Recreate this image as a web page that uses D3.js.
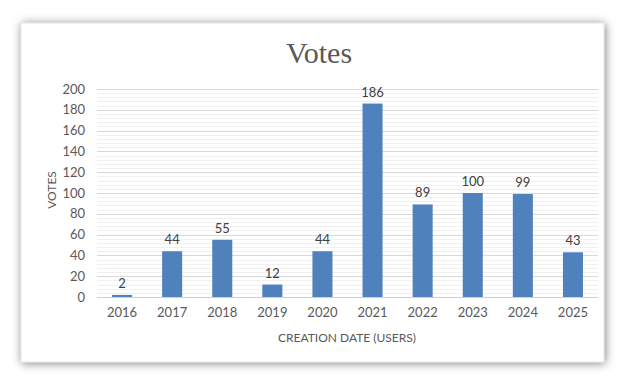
<!DOCTYPE html>
<html>
<head>
<meta charset="utf-8">
<script src="https://cdn.jsdelivr.net/npm/d3@7"></script>
<style>
  body { margin: 0; background: #fff; }
  svg { display: block; }
</style>
</head>
<body>
<svg id="chart" width="640" height="387"></svg>
<script>
const years = ["2016", "2017", "2018", "2019", "2020", "2021", "2022", "2023", "2024", "2025"];
const votes = [2, 44, 55, 12, 44, 186, 89, 100, 99, 43];
const yTicks = [0, 20, 40, 60, 80, 100, 120, 140, 160, 180, 200];

const svg = d3.select("#chart");
const font = "Lato, 'Open Sans', sans-serif";

// card with shadow
const defs = svg.append("defs");
const f = defs.append("filter").attr("id", "shadow")
  .attr("x", "-10%").attr("y", "-10%").attr("width", "120%").attr("height", "120%");
f.append("feDropShadow")
  .attr("dx", 1).attr("dy", 1).attr("stdDeviation", 5)
  .attr("flood-color", "#000").attr("flood-opacity", 0.5);

svg.append("rect")
  .attr("x", 21).attr("y", 23).attr("width", 583).attr("height", 339)
  .attr("fill", "#fff").attr("stroke", "#d9d9d9").attr("stroke-width", 0.75)
  .attr("filter", "url(#shadow)");

const margin = { left: 97, right: 598, top: 89, bottom: 297 };

const x = d3.scaleBand()
  .domain(years)
  .range([margin.left, margin.right])
  .paddingInner(0.6)
  .paddingOuter(0.3);

const y = d3.scaleLinear()
  .domain([0, 200])
  .range([margin.bottom, margin.top]);

// minor gridlines
svg.append("g")
  .selectAll("line")
  .data(d3.range(0, 201, 4))
  .join("line")
  .attr("x1", margin.left).attr("x2", margin.right)
  .attr("y1", d => Math.round(y(d)) + 0.5).attr("y2", d => Math.round(y(d)) + 0.5)
  .attr("stroke", "#f0f0f0").attr("stroke-width", 1);

// major gridlines
svg.append("g")
  .selectAll("line")
  .data(yTicks)
  .join("line")
  .attr("x1", margin.left).attr("x2", margin.right)
  .attr("y1", d => Math.round(y(d)) + 0.5).attr("y2", d => Math.round(y(d)) + 0.5)
  .attr("stroke", d => d === 0 ? "#d0d0d0" : "#d9d9d9").attr("stroke-width", 1);

// y axis labels
const yAxis = svg.append("g")
  .attr("transform", `translate(${margin.left - 6},0)`)
  .call(d3.axisLeft(y).tickValues(yTicks).tickSize(0).tickPadding(6));
yAxis.select(".domain").remove();
yAxis.selectAll("text")
  .attr("font-family", font).attr("font-size", 13).attr("fill", "#595959");

// x axis labels
const xAxis = svg.append("g")
  .attr("transform", `translate(0,${margin.bottom + 8})`)
  .call(d3.axisBottom(x).tickSize(0).tickPadding(3));
xAxis.select(".domain").remove();
xAxis.selectAll("text")
  .attr("font-family", font).attr("font-size", 13).attr("fill", "#595959");

// bars
svg.append("g")
  .selectAll("rect")
  .data(votes)
  .join("rect")
  .attr("x", (d, i) => x(years[i]))
  .attr("width", x.bandwidth())
  .attr("y", d => y(d))
  .attr("height", d => y(0) - y(d))
  .attr("fill", "#4f81bd");

// data labels
svg.append("g")
  .selectAll("text")
  .data(votes)
  .join("text")
  .attr("x", (d, i) => x(years[i]) + x.bandwidth() / 2)
  .attr("y", d => y(d) - 7)
  .attr("text-anchor", "middle")
  .attr("font-family", font).attr("font-size", 13).attr("fill", "#404040")
  .text(d => d);

// title
svg.append("text")
  .attr("x", 319).attr("y", 63)
  .attr("text-anchor", "middle")
  .attr("font-family", "'Liberation Serif', 'DejaVu Serif', serif")
  .attr("font-size", 30).attr("fill", "#595959")
  .text("Votes");

// axis titles
svg.append("text")
  .attr("transform", `translate(56,190) rotate(-90)`)
  .attr("text-anchor", "middle")
  .attr("font-family", font).attr("font-size", 12).attr("fill", "#595959")
  .text("VOTES");

svg.append("text")
  .attr("x", 347).attr("y", 342)
  .attr("text-anchor", "middle")
  .attr("font-family", font).attr("font-size", 12).attr("fill", "#595959")
  .text("CREATION DATE (USERS)");
</script>
</body>
</html>
